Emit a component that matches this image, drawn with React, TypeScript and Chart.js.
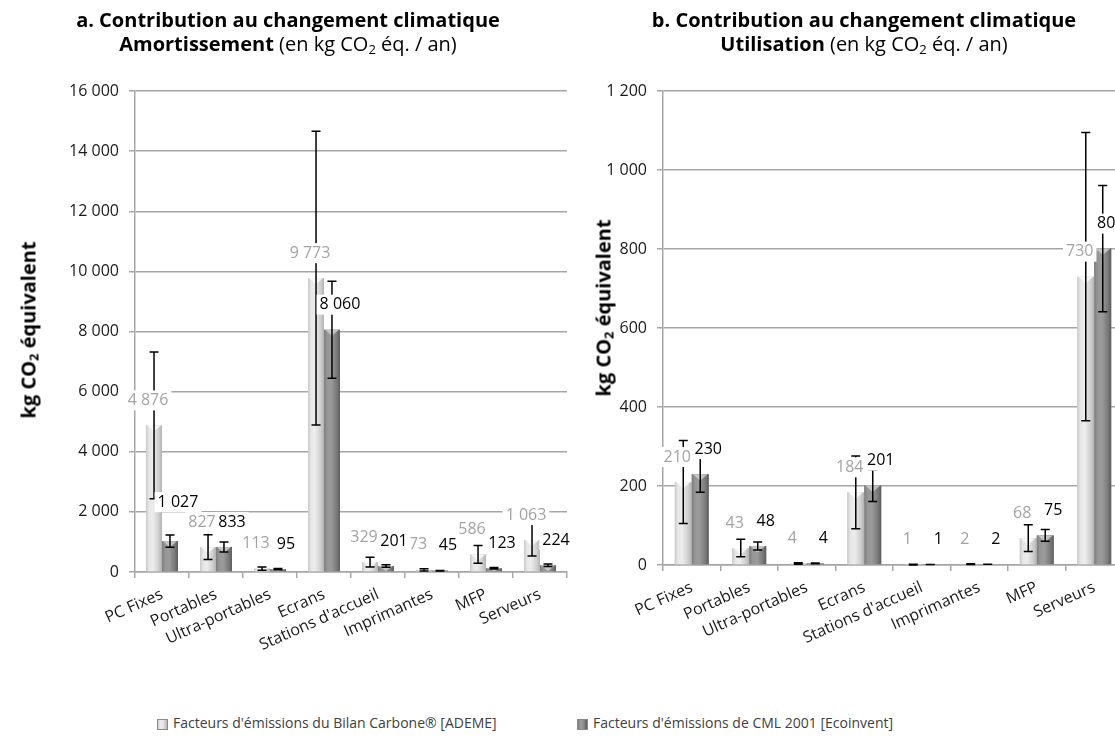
import React, { useEffect, useRef } from "react";
import { Chart, registerables } from "chart.js";

Chart.register(...registerables);

// ---------- DATA ----------
const categories = [
  "PC Fixes",
  "Portables",
  "Ultra-portables",
  "Ecrans",
  "Stations d'accueil",
  "Imprimantes",
  "MFP",
  "Serveurs",
];
const seriesNames = [
  "Facteurs d'émissions du Bilan Carbone® [ADEME]",
  "Facteurs d'émissions de CML 2001 [Ecoinvent]",
];
// a. Amortissement (kg CO2 eq / an)
const amortAdeme = [4876, 827, 113, 9773, 329, 73, 586, 1063];
const amortCml = [1027, 833, 95, 8060, 201, 45, 123, 224];
const amortAdemeErr = [2438, 414, 57, 4887, 165, 37, 293, 532];
const amortCmlErr = [205, 167, 19, 1612, 40, 9, 25, 45];
// b. Utilisation (kg CO2 eq / an)
const utilAdeme = [210, 43, 4, 184, 1, 2, 68, 730];
const utilCml = [230, 48, 4, 201, 1, 2, 75, 801];
const utilAdemeErr = [105, 22, 2, 92, 1, 1, 34, 365];
const utilCmlErr = [46, 10, 1, 40, 0, 0, 15, 160];
// axis settings
const amortMax = 16000;
const amortStep = 2000;
const utilMax = 1200;
const utilStep = 200;

// ---------- STYLE ----------
const FONT = "'Open Sans', sans-serif";
const GRID = "#a6a6a6";
const TXT = "#1a1a1a";
const fmt = (v: number) => String(Math.round(v)).replace(/\B(?=(\d{3})+(?!\d))/g, " ");

const lightStops: [number, string][] = [
  [0, "#c8c8c8"],
  [0.18, "#e6e6e6"],
  [0.42, "#ededed"],
  [0.78, "#d0d0d0"],
  [1, "#b2b2b2"],
];
const darkStops: [number, string][] = [
  [0, "#7c7c7c"],
  [0.2, "#969696"],
  [0.45, "#9b9b9b"],
  [0.8, "#7a7a7a"],
  [1, "#5c5c5c"],
];

function makeDecor(errs: number[][]) {
  return {
    id: "decor",
    afterDatasetsDraw(chart: any) {
      const ctx: CanvasRenderingContext2D = chart.ctx;
      const yScale = chart.scales.y;
      ctx.save();
      // 3D-like shading of bars
      chart.data.datasets.forEach((ds: any, di: number) => {
        const meta = chart.getDatasetMeta(di);
        meta.data.forEach((el: any) => {
          const p = el.getProps(["x", "y", "base", "width"], true);
          const left = p.x - p.width / 2;
          const h = p.base - p.y;
          if (h <= 0) return;
          const g = ctx.createLinearGradient(left, 0, left + p.width, 0);
          (di === 0 ? lightStops : darkStops).forEach(([o, c]) => g.addColorStop(o, c));
          ctx.fillStyle = g;
          ctx.fillRect(left, p.y, p.width, h);
          const d = Math.min(p.width * 0.38, h);
          ctx.beginPath();
          ctx.moveTo(left + 1, p.y);
          ctx.lineTo(left + p.width - 1, p.y);
          ctx.lineTo(p.x, p.y + d);
          ctx.closePath();
          ctx.fillStyle = di === 0 ? "rgba(255,255,255,0.75)" : "rgba(215,215,215,0.75)";
          ctx.fill();
        });
      });
      // error bars
      ctx.strokeStyle = "#000";
      ctx.lineWidth = 1.5;
      chart.data.datasets.forEach((ds: any, di: number) => {
        const meta = chart.getDatasetMeta(di);
        meta.data.forEach((el: any, i: number) => {
          const v = ds.data[i];
          const e = errs[di][i];
          const x = el.getProps(["x"], true).x;
          const yt = yScale.getPixelForValue(v + e);
          const yb = yScale.getPixelForValue(Math.max(v - e, 0));
          ctx.beginPath();
          ctx.moveTo(x, yt);
          ctx.lineTo(x, yb);
          ctx.moveTo(x - 4.5, yt);
          ctx.lineTo(x + 4.5, yt);
          ctx.moveTo(x - 4.5, yb);
          ctx.lineTo(x + 4.5, yb);
          ctx.stroke();
        });
      });
      // data labels (placed right-to-left, nudged up when their text would collide)
      ctx.font = `16px ${FONT}`;
      ctx.textAlign = "center";
      ctx.textBaseline = "middle";
      const placed: { x0: number; x1: number; y0: number; y1: number }[] = [];
      const n = chart.data.labels.length;
      for (let i = n - 1; i >= 0; i--) {
        for (let di = chart.data.datasets.length - 1; di >= 0; di--) {
          const ds = chart.data.datasets[di];
          const el = chart.getDatasetMeta(di).data[i];
          const p = el.getProps(["x", "y"], true);
          const txt = fmt(ds.data[i]);
          const w = ctx.measureText(txt).width;
          const cx = p.x + (di === 0 ? -6 : 8);
          let cy = p.y - 25;
          const box = () => ({ x0: cx - w / 2, x1: cx + w / 2, y0: cy - 9, y1: cy + 9 });
          let b = box();
          for (let k = 0; k < 10; k++) {
            const hit = placed.find((q) => b.x0 < q.x1 && b.x1 > q.x0 && b.y0 < q.y1 && b.y1 > q.y0);
            if (!hit) break;
            cy = hit.y0 - 11;
            b = box();
          }
          placed.push(b);
          ctx.fillStyle = "#fff";
          ctx.fillRect(b.x0 - 3, cy - 10, b.x1 - b.x0 + 6, 20);
          ctx.fillStyle = di === 0 ? "#a3a3a3" : "#000";
          ctx.fillText(txt, cx, cy);
        }
      }
      ctx.restore();
    },
  };
}

function BarChart(props: {
  a: number[];
  b: number[];
  errs: number[][];
  max: number;
  step: number;
  yWidth: number;
  xHeight: number;
  padRight: number;
  width: number;
  height: number;
  left: number;
}) {
  const ref = useRef<HTMLCanvasElement | null>(null);
  useEffect(() => {
    if (!ref.current) return;
    const chart = new Chart(ref.current, {
      type: "bar",
      data: {
        labels: categories,
        datasets: [
          { label: seriesNames[0], data: props.a, backgroundColor: "#d9d9d9", categoryPercentage: 0.59, barPercentage: 1 },
          { label: seriesNames[1], data: props.b, backgroundColor: "#8c8c8c", categoryPercentage: 0.59, barPercentage: 1 },
        ],
      },
      options: {
        responsive: false,
        animation: false,
        layout: { padding: { top: 91, right: props.padRight, left: 0, bottom: 0 } },
        plugins: { legend: { display: false }, title: { display: false }, tooltip: { enabled: false } },
        scales: {
          x: {
            grid: { display: true, drawOnChartArea: false, color: GRID, lineWidth: 1.5, tickLength: 6, offset: true },
            border: { color: GRID, width: 1.5 },
            ticks: {
              font: { family: FONT, size: 16 },
              color: TXT,
              minRotation: 24,
              maxRotation: 24,
              autoSkip: false,
              padding: 7,
            },
            afterFit: (s: any) => {
              s.height = props.xHeight;
            },
          },
          y: {
            min: 0,
            max: props.max,
            ticks: {
              stepSize: props.step,
              callback: (v: any) => fmt(Number(v)),
              font: { family: FONT, size: 16 },
              color: TXT,
              padding: 10,
            },
            grid: { color: GRID, lineWidth: 1.5, tickLength: 6 },
            border: { color: GRID, width: 1.5 },
            afterFit: (s: any) => {
              s.width = props.yWidth;
            },
          },
        },
      },
      plugins: [makeDecor(props.errs)],
    } as any);
    return () => chart.destroy();
  }, []);
  return (
    <canvas
      ref={ref}
      width={props.width}
      height={props.height}
      style={{ position: "absolute", left: props.left, top: 0, width: props.width, height: props.height }}
    />
  );
}

const titleStyle: React.CSSProperties = {
  position: "absolute",
  top: 8,
  textAlign: "center",
  fontFamily: FONT,
  fontSize: 20,
  lineHeight: "24px",
  color: "#000",
  whiteSpace: "nowrap",
};
const subStyle: React.CSSProperties = { fontSize: "0.65em", verticalAlign: "-0.25em", lineHeight: 0 };
const yTitleStyle = (cx: number, cy: number): React.CSSProperties => ({
  position: "absolute",
  left: cx,
  top: cy,
  transform: "translate(-50%, -50%) rotate(-90deg)",
  fontFamily: FONT,
  fontWeight: 700,
  fontSize: 20,
  whiteSpace: "nowrap",
  color: "#000",
});
const legendBox = (stops: [number, string][]): React.CSSProperties => ({
  display: "inline-block",
  width: 9,
  height: 9,
  marginRight: 5,
  border: "1px solid #8a8a8a",
  background: `linear-gradient(to right, ${stops.map(([o, c]) => `${c} ${o * 100}%`).join(", ")})`,
  verticalAlign: "middle",
});
const legendItem = (left: number): React.CSSProperties => ({
  position: "absolute",
  left,
  top: 713,
  fontFamily: FONT,
  fontSize: 14,
  color: "#404040",
  whiteSpace: "nowrap",
  lineHeight: "20px",
});

export default function App() {
  return (
    <div
      style={{
        position: "fixed",
        left: 0,
        top: 0,
        width: 1115,
        height: 740,
        overflow: "hidden",
        background: "#fff",
      }}
    >
      <BarChart
        a={amortAdeme}
        b={amortCml}
        errs={[amortAdemeErr, amortCmlErr]}
        max={amortMax}
        step={amortStep}
        yWidth={135}
        xHeight={128}
        padRight={13}
        width={580}
        height={700}
        left={0}
      />
      <BarChart
        a={utilAdeme}
        b={utilCml}
        errs={[utilAdemeErr, utilCmlErr]}
        max={utilMax}
        step={utilStep}
        yWidth={103}
        xHeight={135}
        padRight={17}
        width={580}
        height={700}
        left={560}
      />
      <div style={{ ...titleStyle, left: 0, width: 576 }}>
        <div style={{ fontWeight: 700 }}>a. Contribution au changement climatique</div>
        <div>
          <b>Amortissement</b> (en kg CO<span style={subStyle}>2</span> éq. / an)
        </div>
      </div>
      <div style={{ ...titleStyle, left: 604, width: 520 }}>
        <div style={{ fontWeight: 700 }}>b. Contribution au changement climatique</div>
        <div>
          <b>Utilisation</b> (en kg CO<span style={subStyle}>2</span> éq. / an)
        </div>
      </div>
      <div style={yTitleStyle(28, 330)}>
        kg CO<span style={subStyle}>2</span> équivalent
      </div>
      <div style={yTitleStyle(603, 308)}>
        kg CO<span style={subStyle}>2</span> équivalent
      </div>
      <div style={legendItem(157)}>
        <span style={legendBox(lightStops)} />
        {seriesNames[0]}
      </div>
      <div style={legendItem(577)}>
        <span style={legendBox(darkStops)} />
        {seriesNames[1]}
      </div>
    </div>
  );
}
